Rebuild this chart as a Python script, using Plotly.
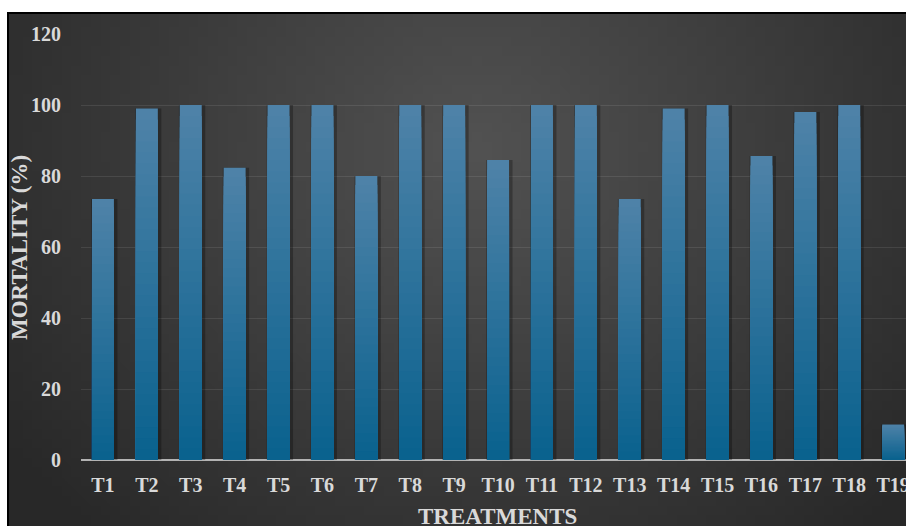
import base64, struct, zlib, math
import plotly.graph_objects as go

# ---- data ----
treatments = ["T1", "T2", "T3", "T4", "T5", "T6", "T7", "T8", "T9", "T10",
              "T11", "T12", "T13", "T14", "T15", "T16", "T17", "T18", "T19"]
mortality = [73.5, 99, 100, 82.3, 100, 100, 80, 100, 100, 84.5,
             100, 100, 73.5, 99, 100, 85.6, 98, 100, 10]
y_ticks = [0, 20, 40, 60, 80, 100, 120]

W, H = 906, 526
FONT = "Liberation Serif"
TXT = "#d9d9d9"

# ---- background radial gradient as a small PNG (styling only) ----
def make_png(w, h, fn):
    rows = []
    for j in range(h):
        row = bytearray([0])
        for i in range(w):
            row += bytes(fn(i / (w - 1), j / (h - 1)))
        rows.append(bytes(row))
    raw = b"".join(rows)
    def chunk(t, d):
        c = struct.pack(">I", len(d)) + t + d
        return c + struct.pack(">I", zlib.crc32(t + d) & 0xffffffff)
    png = b"\x89PNG\r\n\x1a\n"
    png += chunk(b"IHDR", struct.pack(">IIBBBBB", w, h, 8, 2, 0, 0, 0))
    png += chunk(b"IDAT", zlib.compress(raw, 9))
    png += chunk(b"IEND", b"")
    return "data:image/png;base64," + base64.b64encode(png).decode()

c_in = (82, 82, 82)
c_out = (40, 40, 40)
def bg(u, v):
    d = math.sqrt(((u - 0.5) / 0.62) ** 2 + ((v - 0.25) / 1.0) ** 2)
    t = min(1.0, d)
    return [int(round(c_in[k] + (c_out[k] - c_in[k]) * t)) for k in range(3)]

bg_uri = make_png(96, 56, bg)

# ---- figure ----
fig = go.Figure()

# soft shadow behind bars
fig.add_trace(go.Bar(x=treatments, y=mortality, width=0.6, offset=-0.27,
                     marker=dict(color="rgba(0,0,0,0.28)", line=dict(width=0)),
                     hoverinfo="skip", showlegend=False))

# bars with vertical gradient (overlay layers derived from each value)
top = (78, 130, 168)
bot = (10, 98, 142)
n = 32
for k in range(n):
    f = 1 - k / n
    t = k / (n - 1)
    col = "rgb(%d,%d,%d)" % tuple(int(round(top[c] + (bot[c] - top[c]) * t)) for c in range(3))
    fig.add_trace(go.Bar(x=treatments, y=[v * f for v in mortality], width=0.5,
                         marker=dict(color=col, line=dict(width=0)),
                         hoverinfo="skip" if k else None, showlegend=False))

x0 = 81.0
cat_w = 43.9
x_end = (W - x0) / cat_w - 0.5

tick_font = dict(family=FONT, size=20, color=TXT, weight="bold")
title_font = dict(family=FONT, size=23, color=TXT, weight="bold")

fig.update_layout(
    width=W, height=H,
    margin=dict(l=0, r=0, t=0, b=0),
    paper_bgcolor="white",
    plot_bgcolor="rgba(0,0,0,0)",
    barmode="overlay",
    showlegend=False,
    font=dict(family=FONT, color=TXT, size=20, weight="bold"),
    xaxis=dict(domain=[x0 / W, 1], range=[-0.5, x_end], showgrid=False,
               showline=False, ticks="", ticklabelstandoff=11,
               tickfont=tick_font, automargin=False, fixedrange=True),
    yaxis=dict(domain=[(H - 460) / H, (H - 34) / H], range=[0, 120],
               tickvals=y_ticks, showgrid=True, gridcolor="rgba(255,255,255,0.09)",
               gridwidth=1, zeroline=True, zerolinecolor="#b3b3b3", zerolinewidth=2,
               showline=False, ticks="", ticklabelstandoff=19,
               tickfont=tick_font, automargin=False, fixedrange=True),
    images=[dict(source=bg_uri, xref="paper", yref="paper",
                 x=8 / W, y=1 - 13 / H, sizex=(945 - 8) / W, sizey=(548 - 13) / H,
                 xanchor="left", yanchor="top", sizing="stretch", layer="below")],
    shapes=[dict(type="rect", xref="paper", yref="paper",
                 x0=8 / W, x1=1.2, y0=-0.2, y1=1 - 13 / H,
                 line=dict(color="black", width=2), fillcolor="rgba(0,0,0,0)",
                 layer="above")],
    annotations=[
        dict(text="TREATMENTS", xref="paper", yref="paper",
             x=497 / W, y=1 - 516 / H, xanchor="center", yanchor="middle",
             showarrow=False, font=title_font),
        dict(text="MORTALITY (%)", xref="paper", yref="paper", textangle=-90,
             x=19 / W, y=1 - 248 / H, xanchor="center", yanchor="middle",
             showarrow=False, font=title_font),
    ],
)

fig.write_html("out.html")
